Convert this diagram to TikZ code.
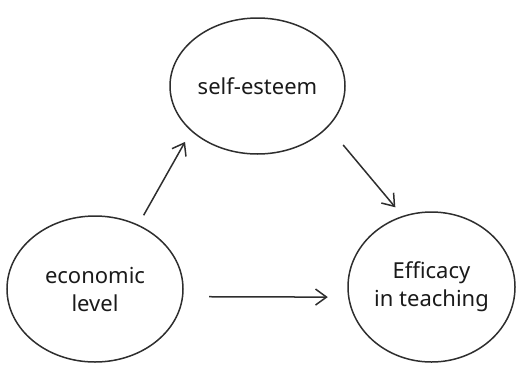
\documentclass[tikz,border=0pt]{standalone}
\usepackage{fontspec}
\setmainfont{Noto Sans}
\usetikzlibrary{shapes.geometric,arrows.meta}
\definecolor{ink}{HTML}{2E2E2E}
\definecolor{txt}{HTML}{1A1A1A}
\begin{document}
\begin{tikzpicture}[x=1pt,y=-1pt,
  bubble/.style={ellipse,draw=ink,line width=1.5pt,inner sep=0pt,outer sep=0pt,
    align=center,text=txt,font=\fontsize{22}{28}\selectfont},
  link/.style={draw=ink,line width=1.5pt,-{Straight Barb[length=11pt,width=16pt,line width=1.5pt]}}]
  \useasboundingbox (0,0) rectangle (518,364);
  % the three constructs
  \node[bubble,minimum width=175pt,minimum height=136pt] (self) at (257.5,86) {self-esteem};
  \node[bubble,minimum width=176pt,minimum height=146pt] (econ) at (95,289) {economic\\level};
  \node[bubble,minimum width=167pt,minimum height=150pt] (eff) at (431.5,287) {Efficacy\\in teaching};
  % paths between them
  \draw[link,shorten <=11.5pt,shorten >=13pt] (econ.56.5) -- (self.214);
  \draw[link,shorten <=24pt,shorten >=12pt] (self.330) -- (eff.112);
  \draw[link,shorten <=26.7pt,shorten >=21pt] (econ.-5.9) -- (eff.187.6);
\end{tikzpicture}
\end{document}
